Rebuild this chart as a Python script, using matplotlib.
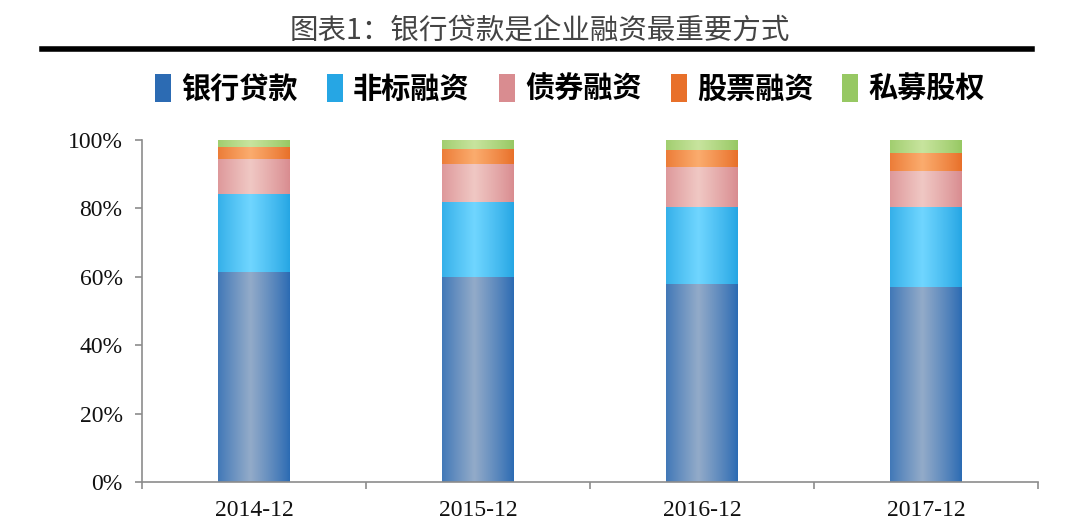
import numpy as np
import matplotlib
matplotlib.use("Agg")
import matplotlib.pyplot as plt
from matplotlib.patches import Patch
from matplotlib.lines import Line2D
from matplotlib.colors import to_rgb

plt.rcParams['font.family'] = ['Noto Sans CJK SC', 'DejaVu Sans']

categories = ['2014-12', '2015-12', '2016-12', '2017-12']
series_names = ['银行贷款', '非标融资', '债券融资', '股票融资', '私募股权']
bank_loans = [61.5, 59.8, 58.0, 56.9]
non_standard = [22.8, 22.1, 22.3, 23.4]
bonds = [10.1, 11.2, 11.8, 10.7]
equity = [3.6, 4.4, 4.9, 5.3]
private_equity = [2.0, 2.5, 3.0, 3.7]
yticks = [0, 20, 40, 60, 80, 100]
ytick_labels = ['0%', '20%', '40%', '60%', '80%', '100%']
title = '图表1：银行贷款是企业融资最重要方式'

# (edge colour, centre colour) for the cylinder-like shading
shades = [
    ('#2c6bb3', '#93abc9'),
    ('#26a6e4', '#70d6ff'),
    ('#d98c90', '#f0c8c4'),
    ('#e8702a', '#fbac6e'),
    ('#97c863', '#c8e49e'),
]

fig = plt.figure(figsize=(10.8, 5.31), dpi=100)
ax = fig.add_axes([142 / 1080, 1 - 482 / 531, (1038 - 142) / 1080, (482 - 140) / 531])

data = [bank_loans, non_standard, bonds, equity, private_equity]
x = np.arange(len(categories))
width = 0.32
bottom = np.zeros(len(categories))


def gradient_row(edge, centre, n=64):
    e = np.array(to_rgb(edge))
    c = np.array(to_rgb(centre))
    t = np.linspace(0, 1, n)
    # brightest a little left of the middle
    w = np.clip(1 - np.abs(t - 0.45) / 0.55, 0, 1) ** 0.9
    row = e[None, :] * (1 - w[:, None]) + c[None, :] * w[:, None]
    return row[None, :, :]


for vals, (edge, centre) in zip(data, shades):
    bars = ax.bar(x, vals, width, bottom=bottom, color=edge, linewidth=0)
    img = gradient_row(edge, centre)
    for rect in bars:
        x0, y0 = rect.get_x(), rect.get_y()
        im = ax.imshow(img, extent=(x0, x0 + rect.get_width(), y0, y0 + rect.get_height()),
                       aspect='auto', interpolation='bilinear', zorder=2)
        im.set_clip_path(rect)
    bottom += np.array(vals)

ax.set_xlim(-0.5, len(categories) - 0.5)
ax.set_ylim(0, 100)

for s in ['top', 'right']:
    ax.spines[s].set_visible(False)
for s in ['left', 'bottom']:
    ax.spines[s].set_color('#8c8c8c')
    ax.spines[s].set_linewidth(1.2)

ax.set_yticks(yticks)
ax.set_yticklabels(ytick_labels, family='Liberation Serif', fontsize=17, color='#111111')
ax.tick_params(axis='y', direction='out', length=5, width=1.2, color='#8c8c8c', pad=9)

ax.set_xticks(np.arange(-0.5, len(categories)), minor=False)
ax.set_xticklabels([])
ax.tick_params(axis='x', which='major', direction='out', length=5, width=1.2, color='#8c8c8c')
ax.set_xticks(x, minor=True)
ax.set_xticklabels(categories, minor=True, family='Liberation Serif', fontsize=17, color='#111111')
ax.tick_params(axis='x', which='minor', length=0, pad=13)

handles = [Patch(facecolor=c, edgecolor='none') for c, _ in shades]
leg = fig.legend(handles, series_names, loc='center', bbox_to_anchor=(570 / 1080, 1 - 89 / 531),
                 ncol=5, frameon=False, handlelength=0.55, handleheight=1.1, handletextpad=0.35,
                 columnspacing=1.0, prop={'family': 'Noto Sans CJK SC', 'weight': 'bold', 'size': 21})

fig.text(540 / 1080, 1 - 31 / 531, title, ha='center', va='center', fontsize=20.5, color='#444444')
fig.add_artist(Line2D([42 / 1080, 1032 / 1080], [1 - 49 / 531, 1 - 49 / 531], color='black', linewidth=4))

fig.savefig('out.png', dpi=100)
